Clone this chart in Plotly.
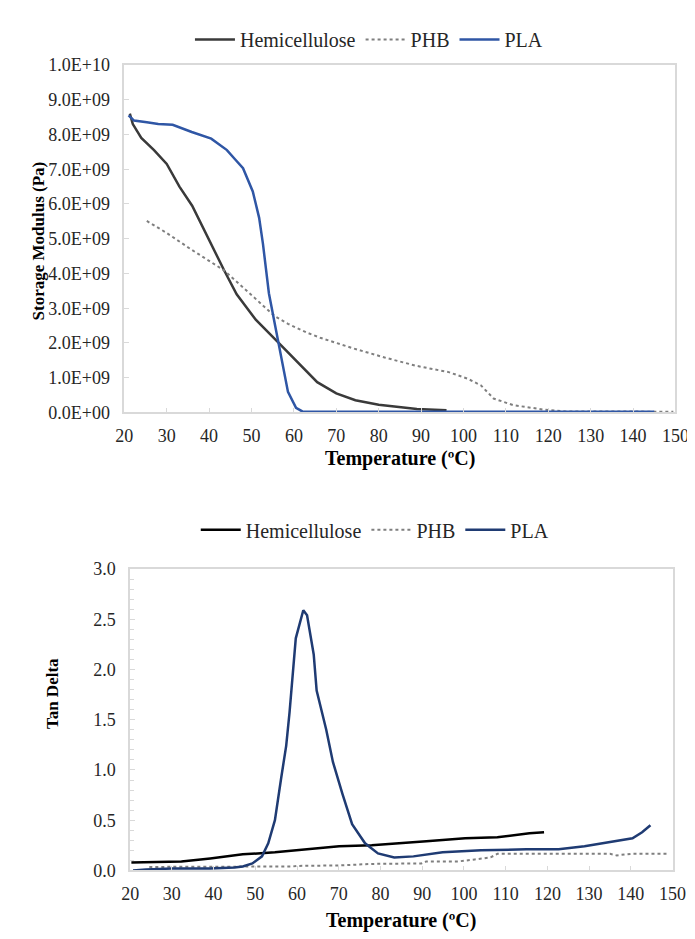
import plotly.graph_objects as go

# ---------------- data: storage modulus (top) ----------------
hemi_T = [21.3, 22.0, 24.0, 27.0, 30.0, 33.0, 36.0, 39.0, 41.0, 43.5, 46.5, 51.0, 56.0,
          58.6, 62.0, 65.5, 70.0, 74.5, 80.0, 85.0, 89.0, 96.0]
hemi_E = [8.6e9, 8.3e9, 7.9e9, 7.55e9, 7.15e9, 6.5e9, 5.95e9, 5.2e9, 4.7e9, 4.1e9, 3.4e9,
          2.67e9, 2.05e9, 1.72e9, 1.3e9, 0.87e9, 0.55e9, 0.35e9, 0.22e9, 0.16e9, 0.1e9, 0.06e9]

pla_T = [21.0, 22.3, 25.3, 28.0, 31.4, 35.9, 40.5, 44.2, 46.0, 48.0, 50.3, 51.8, 52.7, 54.1,
         55.6, 57.1, 58.6, 60.5, 62.0, 80.0, 100.0, 120.0, 145.0]
pla_E = [8.55e9, 8.4e9, 8.35e9, 8.3e9, 8.28e9, 8.07e9, 7.88e9, 7.55e9, 7.3e9, 7.03e9, 6.36e9,
         5.6e9, 4.85e9, 3.43e9, 2.48e9, 1.53e9, 0.59e9, 0.13e9, 0.03e9, 0.02e9, 0.02e9,
         0.02e9, 0.02e9]

phb_T = [25.3, 29.8, 35.9, 43.5, 49.5, 55.6, 58.6, 63.2, 66.2, 73.8, 81.4, 88.9, 96.5, 101.0,
         104.1, 107.1, 111.7, 115.5, 119.0, 124.0, 135.0, 149.5]
phb_E = [5.51e9, 5.18e9, 4.68e9, 4.09e9, 3.43e9, 2.76e9, 2.55e9, 2.29e9, 2.15e9, 1.85e9,
         1.58e9, 1.34e9, 1.16e9, 0.97e9, 0.78e9, 0.40e9, 0.21e9, 0.14e9, 0.08e9, 0.03e9,
         0.02e9, 0.02e9]

# ---------------- data: tan delta (bottom) ----------------
hemi_T2 = [20.3, 32.3, 39.2, 47.0, 54.7, 62.4, 70.1, 77.9, 85.6, 91.0, 100.3, 108.0, 115.7, 119.2]
hemi_tan = [0.08, 0.09, 0.12, 0.16, 0.18, 0.21, 0.24, 0.25, 0.27, 0.29, 0.32, 0.33, 0.37, 0.38]

phb_T2 = [24.6, 40.0, 59.0, 60.0, 70.1, 77.9, 89.8, 91.0, 98.7, 102.6, 106.4, 108.0, 120.0,
          135.0, 136.6, 140.0, 148.9]
phb_tan = [0.035, 0.035, 0.04, 0.045, 0.05, 0.065, 0.07, 0.09, 0.09, 0.11, 0.13, 0.165, 0.165,
           0.165, 0.15, 0.165, 0.165]

pla_T2 = [20.7, 23.8, 30.0, 39.2, 45.0, 47.0, 49.3, 50.0, 51.6, 53.1, 54.7, 56.2, 57.4, 58.2,
          58.9, 59.7, 61.5, 62.4, 64.0, 64.7, 67.0, 68.6, 70.9, 73.2, 76.3, 79.4, 83.3, 87.9,
          94.9, 104.1, 115.0, 122.7, 128.9, 135.0, 140.4, 142.7, 144.7]
pla_tan = [0.0, 0.01, 0.02, 0.02, 0.03, 0.04, 0.07, 0.09, 0.14, 0.27, 0.50, 0.92, 1.24, 1.57,
           1.96, 2.31, 2.59, 2.54, 2.15, 1.79, 1.40, 1.08, 0.76, 0.46, 0.27, 0.17, 0.13, 0.14,
           0.18, 0.20, 0.21, 0.21, 0.24, 0.28, 0.32, 0.38, 0.45]

# ---------------- ticks ----------------
x_ticks = list(range(20, 151, 10))
E_ticks = [i * 1e9 for i in range(0, 11)]
E_ticktext = [f"{v:.1E}" for v in E_ticks]
tan_ticks = [0.0, 0.5, 1.0, 1.5, 2.0, 2.5, 3.0]
tan_ticktext = [f"{v:.1f}" for v in tan_ticks]

SERIF = "Liberation Serif"
AXCOL = "#d9d9d9"
TXT = "#262626"

fig = go.Figure()
# top
fig.add_trace(go.Scatter(x=hemi_T, y=hemi_E, mode="lines", name="Hemicellulose",
                         line=dict(color="#3a3a3a", width=2.5), xaxis="x", yaxis="y",
                         legend="legend"))
fig.add_trace(go.Scatter(x=phb_T, y=phb_E, mode="lines", name="PHB",
                         line=dict(color="#7f7f7f", width=2, dash="dot"), xaxis="x", yaxis="y",
                         legend="legend"))
fig.add_trace(go.Scatter(x=pla_T, y=pla_E, mode="lines", name="PLA",
                         line=dict(color="#2f56a5", width=2.5), xaxis="x", yaxis="y",
                         legend="legend"))
# bottom
fig.add_trace(go.Scatter(x=hemi_T2, y=hemi_tan, mode="lines", name="Hemicellulose",
                         line=dict(color="#000000", width=2.5), xaxis="x2", yaxis="y2",
                         legend="legend2"))
fig.add_trace(go.Scatter(x=phb_T2, y=phb_tan, mode="lines", name="PHB",
                         line=dict(color="#7f7f7f", width=2, dash="dot"), xaxis="x2", yaxis="y2",
                         legend="legend2"))
fig.add_trace(go.Scatter(x=pla_T2, y=pla_tan, mode="lines", name="PLA",
                         line=dict(color="#1f3b73", width=2.5), xaxis="x2", yaxis="y2",
                         legend="legend2"))

W, H = 695, 939
def px_x(p): return p / W
def px_y(p): return 1 - p / H

base = dict(showgrid=False, zeroline=False, showline=True, linecolor=AXCOL,
            linewidth=1.5, mirror=True, ticks="inside", tickcolor=AXCOL, ticklen=5,
            tickfont=dict(family=SERIF, size=18, color=TXT))
xax = dict(base, ticklabelstandoff=6)
yax = dict(base, ticklabelstandoff=9)

def title_ann(text, x, y, size, angle=0):
    return dict(text=text, x=px_x(x), y=px_y(y), xref="paper", yref="paper",
                xanchor="center", yanchor="middle", showarrow=False, textangle=angle,
                font=dict(family=SERIF, size=size, color="#000"))

fig.update_layout(
    width=W, height=H,
    margin=dict(l=0, r=0, t=0, b=0),
    paper_bgcolor="white", plot_bgcolor="white",
    font=dict(family=SERIF, color=TXT),
    xaxis=dict(domain=[px_x(111), px_x(681)], range=[20, 150], tickvals=x_ticks,
               anchor="y", **xax),
    yaxis=dict(domain=[px_y(403), px_y(48)], range=[0, 1e10], tickvals=E_ticks,
               ticktext=E_ticktext, anchor="x", **yax),
    xaxis2=dict(domain=[px_x(117), px_x(678)], range=[20, 150], tickvals=x_ticks,
                anchor="y2", **xax),
    yaxis2=dict(domain=[px_y(871), px_y(563)], range=[0, 3], tickvals=tan_ticks,
                ticktext=tan_ticktext, anchor="x2",
                minor=dict(dtick=0.1, ticks="inside", ticklen=4, tickcolor=AXCOL),
                **yax),
    legend=dict(orientation="h", x=px_x(364), xanchor="center", y=px_y(22), yanchor="middle",
                font=dict(family=SERIF, size=20, color=TXT), itemwidth=40,
                bgcolor="rgba(0,0,0,0)"),
    legend2=dict(orientation="h", x=px_x(370), xanchor="center", y=px_y(523), yanchor="middle",
                 font=dict(family=SERIF, size=20, color=TXT), itemwidth=40,
                 bgcolor="rgba(0,0,0,0)"),
    annotations=[
        title_ann("<b>Temperature (ºC)</b>", 396, 450, 20),
        title_ann("<b>Storage Modulus (Pa)</b>", 22, 228, 17, -90),
        title_ann("<b>Temperature (ºC)</b>", 397, 922, 20),
        title_ann("<b>Tan Delta</b>", 36, 690, 17, -90),
    ],
)

fig.write_html("out.html")
